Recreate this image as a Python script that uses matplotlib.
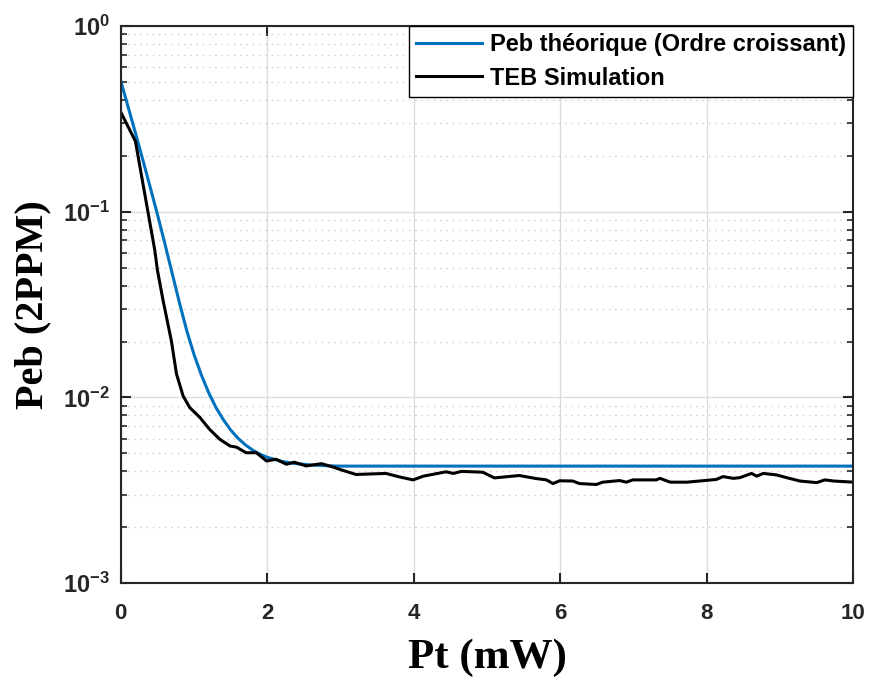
import math
import matplotlib
matplotlib.use("Agg")
import matplotlib.pyplot as plt
from matplotlib.ticker import LogLocator, FuncFormatter, NullFormatter

plt.rcParams['mathtext.fontset'] = 'custom'
plt.rcParams['mathtext.bf'] = 'Liberation Sans:bold'
plt.rcParams['mathtext.rm'] = 'Liberation Sans:bold'

# courbe théorique
pt_theo = [0.0, 0.1, 0.2, 0.3, 0.4, 0.5, 0.6, 0.7, 0.8, 0.9, 1.0, 1.1, 1.2, 1.3, 1.4, 1.5,
           1.6, 1.7, 1.8, 1.9, 2.0, 2.2, 2.4, 2.6, 2.8, 3.0, 5.0, 7.5, 10.0]
peb_theo = [0.505, 0.366, 0.265, 0.1905, 0.136, 0.0966, 0.0676, 0.0468, 0.0324, 0.0229,
            0.0170, 0.0132, 0.0106, 0.00881, 0.00759, 0.00668, 0.00603, 0.00556, 0.00521,
            0.00495, 0.00476, 0.00452, 0.00440, 0.00433, 0.00429, 0.00427, 0.00427,
            0.00427, 0.00427]

# courbe simulée (TEB)
pt_sim = [0.0, 0.20, 0.37, 0.464, 0.50, 0.577, 0.69, 0.76, 0.85, 0.94, 1.08, 1.21, 1.35,
          1.49, 1.58, 1.71, 1.85, 1.99, 2.12, 2.26, 2.37, 2.53, 2.74, 2.90, 2.99, 3.21, 3.62,
          3.81, 3.99, 4.13, 4.44, 4.54, 4.65, 4.94, 5.10, 5.44, 5.67, 5.81, 5.90, 5.99, 6.17,
          6.26, 6.49, 6.58, 6.81, 6.90, 6.99, 7.31, 7.36, 7.50, 7.73, 7.90, 8.13, 8.22, 8.36,
          8.45, 8.61, 8.68, 8.77, 8.95, 9.09, 9.27, 9.50, 9.61, 9.73, 10.0]
peb_sim = [0.343, 0.239, 0.10, 0.062, 0.0484, 0.0333, 0.0202, 0.0134, 0.0102, 0.00883,
           0.0078, 0.00675, 0.00596, 0.00548, 0.0054, 0.00504, 0.00504, 0.00455, 0.00465,
           0.00437, 0.00448, 0.00428, 0.0044, 0.00422, 0.0041, 0.00385, 0.0039, 0.00373,
           0.0036, 0.00377, 0.00398, 0.0039, 0.0040, 0.00396, 0.00369, 0.0038, 0.00366,
           0.0036, 0.00344, 0.00356, 0.00355, 0.00344, 0.0034, 0.0035, 0.00357, 0.0035,
           0.0036, 0.0036, 0.00367, 0.0035, 0.0035, 0.00355, 0.00362, 0.00375, 0.00367,
           0.0037, 0.0039, 0.00377, 0.0039, 0.00383, 0.0037, 0.00355, 0.00348, 0.0036,
           0.00355, 0.0035]

fig = plt.figure(figsize=(8.69, 6.79), dpi=100)
ax = fig.add_axes([0.139, 0.141, 0.843, 0.821])

ax.semilogy(pt_theo, peb_theo, color='#0072BD', lw=2.2, label='Peb théorique (Ordre croissant)')
ax.semilogy(pt_sim, peb_sim, color='black', lw=2.2, label='TEB Simulation')

ax.set_xlim(0, 10)
ax.set_ylim(1e-3, 1)
ax.set_xticks([0, 2, 4, 6, 8, 10])
ax.yaxis.set_major_locator(LogLocator(base=10, numticks=10))
ax.yaxis.set_minor_locator(LogLocator(base=10, subs=range(2, 10), numticks=10))
ax.yaxis.set_minor_formatter(NullFormatter())
ax.yaxis.set_major_formatter(FuncFormatter(lambda v, p: r'$\mathbf{10^{%d}}$' % round(math.log10(v))))

ax.grid(True, which='major', color='#dcdcdc', lw=1.0, ls='-')
ax.grid(True, which='minor', color='#cccccc', lw=1.0, ls=(0, (1, 3.5)))
ax.set_axisbelow(True)

ax.tick_params(which='both', direction='in', top=True, right=True, colors='#262626')
ax.tick_params(which='major', length=7, width=1.5, labelsize=16)
ax.tick_params(which='minor', length=4, width=1.2)
ax.tick_params(axis='x', which='major', pad=14)
ax.tick_params(axis='y', which='major', pad=8, labelsize=17)
for lab in ax.get_xticklabels():
    lab.set_fontfamily('Liberation Sans')
    lab.set_fontweight('bold')
for sp in ax.spines.values():
    sp.set_color('#262626')
    sp.set_linewidth(1.5)

ax.set_xlabel('Pt (mW)', fontsize=31, fontweight='bold', family='Liberation Serif', labelpad=11)
ax.set_ylabel('Peb (2PPM)', fontsize=29, fontweight='bold', family='Liberation Serif', labelpad=8)

leg = ax.legend(loc='upper right', borderaxespad=0, fancybox=False, framealpha=1,
                edgecolor='black', prop={'family': 'Liberation Sans', 'weight': 'bold', 'size': 17},
                handlelength=2.8, handletextpad=0.35, labelspacing=0.45, borderpad=0.3)
leg.get_frame().set_linewidth(1.0)

fig.savefig('out.png', dpi=100)
